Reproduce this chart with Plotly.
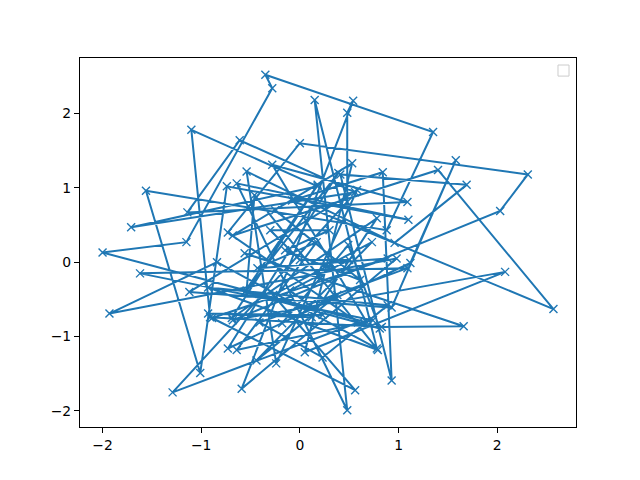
import plotly.graph_objects as go

x_vals = [-0.56, 1.66, 0.83, -0.91, -1.10, 0.18, -1.71, 0.56, -0.61, -1.14,
          1.09, -0.28, 0.68, -2.00, -1.15, -0.28, -0.35, 1.35, 0.88, -1.56,
          -1.01, -0.74, 1.10, -0.64, 0.48, 0.15, 0.78, -0.84, -1.93, 0.98,
          -0.59, 0.54, 0.48, 0.48, -1.29, 0.59, -0.73, 0.00, 2.31, 2.03,
          -0.68, 2.08, 0.05, 0.53, -0.68, 1.40, 2.57, -0.08, 0.84, 0.93,
          0.41, 1.69, 0.96, -0.54, -0.24, 0.58, -1.12, 0.93, 1.58, 1.12,
          -0.73, 0.39, -0.54, -0.46, 0.79, -0.93, 0.89, 0.23, -0.41, 1.09,
          -1.62, 0.74, -0.64, 0.17, -0.43, 0.89, -0.89, 0.56, -0.27, 0.73,
          -0.44, 0.38, -0.18, 0.49, 0.81, -0.56, 0.18, -0.69, 0.78, 0.12,
          -0.93, 0.23, -0.10, 0.50, 0.00, -0.30, 0.30, -0.15, 0.61, -0.25]
y_vals = [0.12, -0.86, -0.87, -0.74, 1.78, 1.02, 0.47, 0.94, 1.64, 0.67,
          0.81, 1.31, -0.81, 0.13, 0.27, 2.34, 2.52, 1.75, 0.43, 0.96,
          -1.49, 1.02, 0.57, 1.06, -1.99, 2.18, -1.16, 0.00, -0.69, 0.05,
          -1.70, 2.17, 2.01, 0.81, -1.75, -0.81, 0.40, 1.60, 1.18, 0.69,
          -0.78, -0.13, -1.21, 1.33, 0.36, 1.24, -0.63, 0.83, 1.21, -1.59,
          1.18, 1.04, 0.26, 1.22, -1.36, 0.97, -0.40, -0.61, 1.37, -0.01,
          -1.16, 1.20, -0.38, 0.90, -1.18, -0.34, -0.58, -1.28, -0.81, -0.08,
          -0.15, -0.78, -1.18, 0.27, -0.08, 0.05, -0.75, -1.72, -0.44, 0.27,
          -1.32, -0.44, -0.82, 0.23, -0.89, -0.40, 1.04, -0.75, 0.59, -0.74,
          -0.69, -0.71, -0.38, 0.03, 0.03, 0.43, 0.43, 0.16, -0.24, 0.70]
tick_vals = [-2, -1, 0, 1, 2]

fig = go.Figure()
fig.add_trace(go.Scatter(
    x=x_vals, y=y_vals, mode="lines+markers",
    line=dict(color="#1f77b4", width=2),
    marker=dict(symbol="x-thin", size=8, line=dict(color="#1f77b4", width=1.4), color="#1f77b4"),
    showlegend=False,
))

def pad(vals):
    lo, hi = min(vals), max(vals)
    p = (hi - lo) * 0.05
    return [lo - p, hi + p]

axis_common = dict(
    showgrid=False, zeroline=False, showline=True, linecolor="black", linewidth=1.1,
    mirror=True, ticks="outside", ticklen=5, tickwidth=1.1, tickcolor="black",
    tickfont=dict(family="DejaVu Sans", size=13.9, color="black"),
    tickvals=tick_vals, ticktext=[str(v) if v >= 0 else "\u2212" + str(-v) for v in tick_vals],
)
fig.update_xaxes(range=pad(x_vals), **axis_common)
fig.update_yaxes(range=pad(y_vals), **axis_common)

fig.add_shape(type="rect", xref="paper", yref="paper",
              x0=0.9637, x1=0.9859, y0=0.951, y1=0.981,
              line=dict(color="#cccccc", width=1), fillcolor="white")

fig.update_layout(
    width=640, height=480,
    margin=dict(l=72, r=72, t=50, b=61),
    paper_bgcolor="white", plot_bgcolor="white",
)
fig.write_html("out.html")
